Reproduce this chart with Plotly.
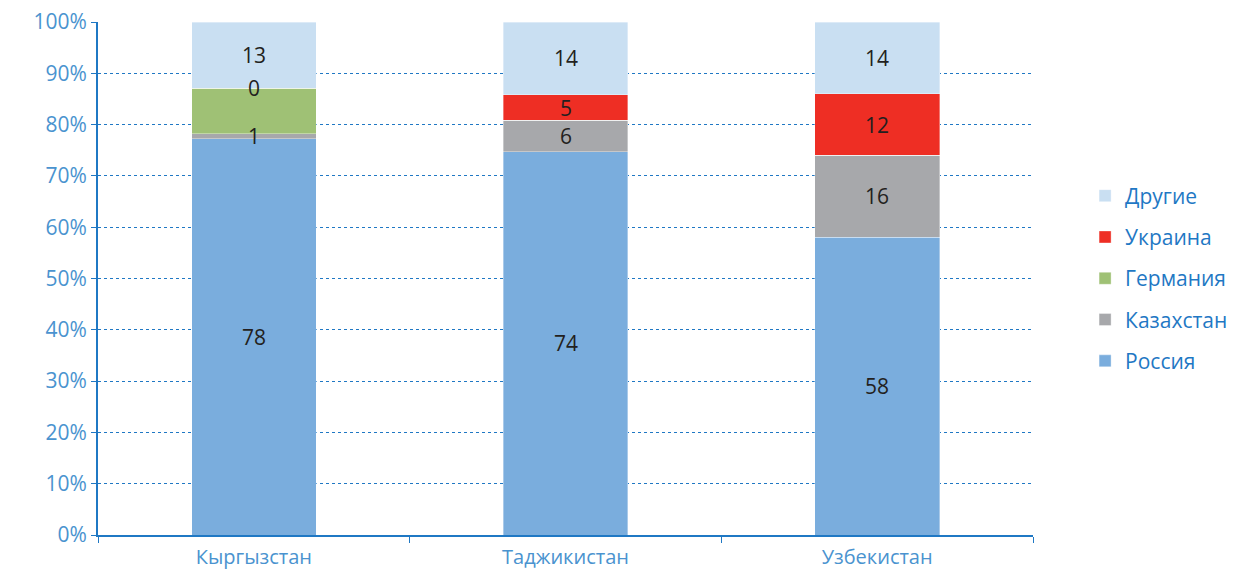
import plotly.graph_objects as go

countries = ["Кыргызстан", "Таджикистан", "Узбекистан"]
series_names = ["Россия", "Казахстан", "Германия", "Украина", "Другие"]
russia = [78, 74, 58]
kazakhstan = [1, 6, 16]
germany = [9, 0, 0]
ukraine = [0, 5, 12]
others = [13, 14, 14]
# labels as printed on the chart
russia_lbl = ["78", "74", "58"]
kazakhstan_lbl = ["1", "6", "16"]
germany_lbl = ["0", "", ""]
ukraine_lbl = ["", "5", "12"]
others_lbl = ["13", "14", "14"]
y_ticks = [0, 10, 20, 30, 40, 50, 60, 70, 80, 90, 100]
y_tick_text = ["0%", "10%", "20%", "30%", "40%", "50%", "60%", "70%", "80%", "90%", "100%"]

colors = ["#7aaddd", "#a7a8ab", "#9fc175", "#ee2e24", "#c9dff2"]
values = [russia, kazakhstan, germany, ukraine, others]
labels = [russia_lbl, kazakhstan_lbl, germany_lbl, ukraine_lbl, others_lbl]

FONT = "Open Sans"
BLUE = "#1f78c4"
TICKC = "#4a93cf"
LBLC = "#231f20"

fig = go.Figure()
for i, (name, vals, col) in enumerate(zip(series_names, values, colors)):
    fig.add_trace(go.Bar(
        x=countries, y=vals, name=name,
        marker=dict(color=col, line=dict(width=0.6, color="rgba(255,255,255,0.6)")),
        width=0.4, legendgroup=name, legendrank=1000 - i * 10, hoverinfo="skip",
    ))

# data labels at the middle of each segment (Germany's "0" sits on the top edge)
for j, c in enumerate(countries):
    total = sum(v[j] for v in values)
    cum = 0
    for name, vals, lbls in zip(series_names, values, labels):
        lo = cum
        cum += vals[j]
        if not lbls[j]:
            continue
        if name == "Германия":
            ypos = cum / total * 100
        else:
            ypos = (lo + vals[j] / 2) / total * 100
        fig.add_annotation(x=c, y=ypos, text=lbls[j], showarrow=False,
                           font=dict(family=FONT, size=21, color=LBLC))

fig.update_layout(
    barmode="stack", barnorm="percent",
    width=1247, height=563,
    margin=dict(l=90, r=222, t=14, b=36, autoexpand=False),
    plot_bgcolor="white", paper_bgcolor="white",
    showlegend=True,
    legend=dict(traceorder="grouped", x=1.214, y=0.5, yanchor="middle", xanchor="right",
                font=dict(family=FONT, size=21, color=BLUE), tracegroupgap=11,
                itemwidth=30),
    xaxis=dict(type="category", range=[-0.5, 2.5], tickson="boundaries", ticks="outside",
               ticklen=6, tickcolor=BLUE, showline=True, linecolor=BLUE, linewidth=2,
               tickfont=dict(family=FONT, size=20, color=TICKC), showgrid=False,
               automargin=False, ticklabelstandoff=3),
    yaxis=dict(range=[0, 100], tickvals=y_ticks, ticktext=y_tick_text, ticks="outside",
               ticklen=5, tickcolor=BLUE, showline=True, linecolor=BLUE, linewidth=2,
               tickfont=dict(family=FONT, size=21, color=TICKC),
               showgrid=True, gridcolor=BLUE, griddash="dot", gridwidth=1, zeroline=False,
               automargin=False, ticklabeloverflow="allow"),
    font=dict(family=FONT),
)

fig.write_html("out.html")
